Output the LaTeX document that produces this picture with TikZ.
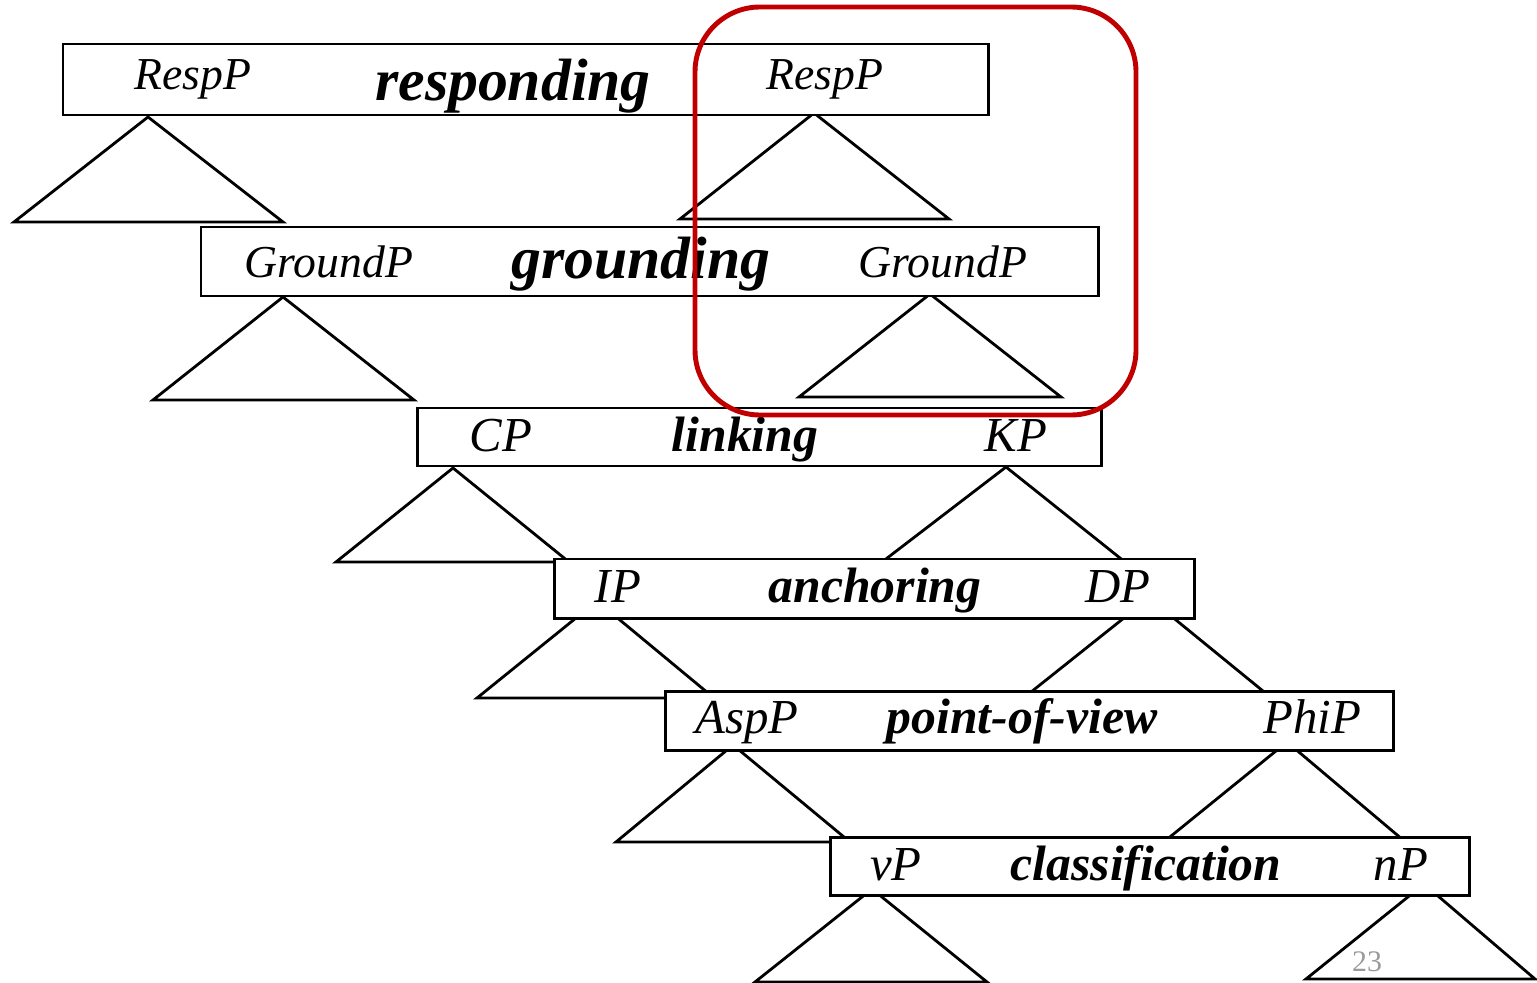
\documentclass[tikz,border=0pt]{standalone}
\usepackage{fontspec}
\setmainfont{Liberation Serif}
\usetikzlibrary{fit}
\definecolor{hl}{HTML}{C00000}
\definecolor{pgnum}{HTML}{9A9A9A}
\begin{document}
\begin{tikzpicture}[x=0.02cm,y=-0.02cm,
  box/.style={draw=black, fill=white, line width=1.7pt, inner sep=0pt, rectangle},
  tri/.style={draw=black, line width=1.6pt, line join=miter},
  lab/.style={anchor=base, inner sep=0pt, font=\fontsize{26}{26}\selectfont\itshape},
  labs/.style={anchor=base, inner sep=0pt, font=\fontsize{27.8}{28}\selectfont\itshape},
  fn/.style={anchor=base, inner sep=0pt, font=\fontsize{34}{34}\selectfont\bfseries\itshape},
  fns/.style={anchor=base, inner sep=0pt, font=\fontsize{28.3}{28}\selectfont\bfseries\itshape},
  ring/.style={draw=hl, line width=2.8pt, rounded corners=1.3cm},
  pagenum/.style={inner sep=0pt, text=pgnum, font=\fontsize{17}{17}\selectfont}]
\useasboundingbox (0,0) rectangle (1537,983);

% triangles (drawn first, boxes cover their tops)
\draw[tri] (148,117) -- (14,222) -- (283,222) -- cycle;
\draw[tri] (814,113) -- (680,219) -- (949,219) -- cycle;
\draw[tri] (283,297) -- (153,400) -- (414,400) -- cycle;
\draw[tri] (930,294) -- (799,397) -- (1061,397) -- cycle;
\draw[tri] (453,468) -- (336,562) -- (569,562) -- cycle;
\draw[tri] (1006,467) -- (882,562) -- (1125,562) -- cycle;
\draw[tri] (597,601) -- (477,698) -- (714,698) -- cycle;
\draw[tri] (1149,598) -- (1021,700) -- (1274,700) -- cycle;
\draw[tri] (733,745) -- (616,842) -- (850,842) -- cycle;
\draw[tri] (1287,742) -- (1160,845) -- (1409,845) -- cycle;
\draw[tri] (872,889) -- (755,982) -- (987,982) -- cycle;
\draw[tri] (1424,884) -- (1306,979) -- (1535,979) -- cycle;

% boxes
\coordinate (b1a) at (63,44);   \coordinate (b1b) at (988,115);
\coordinate (b2a) at (201,227); \coordinate (b2b) at (1098,296);
\coordinate (b3a) at (417,408); \coordinate (b3b) at (1101,466);
\coordinate (b4a) at (554,559); \coordinate (b4b) at (1194,618);
\coordinate (b5a) at (665,691); \coordinate (b5b) at (1393,750);
\coordinate (b6a) at (830,837); \coordinate (b6b) at (1469,895);
\node[box, fit=(b1a)(b1b)] (b1) {};
\node[box, fit=(b2a)(b2b)] (b2) {};
\node[box, fit=(b3a)(b3b)] (b3) {};
\node[box, fit=(b4a)(b4b)] (b4) {};
\node[box, fit=(b5a)(b5b)] (b5) {};
\node[box, fit=(b6a)(b6b)] (b6) {};

% labels
\node[lab] (respL) at (193,90) {RespP};
\node[fn]  (resp)  at (513,101) {responding};
\node[lab] (respR) at (825,90) {RespP};

\node[lab] (grL) at (329,277) {GroundP};
\node[fn]  (gr)  at (641,278) {grounding};
\node[lab] (grR) at (943,277) {GroundP};

\node[labs] (cp)  at (501,451) {CP};
\node[fns]  (lk)  at (745,451) {linking};
\node[labs] (kp)  at (1016,451) {KP};

\node[labs] (ip)  at (618,602) {IP};
\node[fns]  (an)  at (875,602) {anchoring};
\node[labs] (dp)  at (1118,602) {DP};

\node[labs] (asp) at (747,733) {AspP};
\node[fns]  (pov) at (1022,733) {point-of-view};
\node[labs] (phi) at (1312,733) {PhiP};

\node[labs] (vp)  at (896,880) {vP};
\node[fns]  (cl)  at (1146,880) {classification};
\node[labs] (np)  at (1401,880) {nP};

% highlight ring
\coordinate (r1) at (695,7); \coordinate (r2) at (1136,415);
\draw[ring] (r1) rectangle (r2);

\node[pagenum] (pg) at (1367,962) {23};
\end{tikzpicture}
\end{document}
